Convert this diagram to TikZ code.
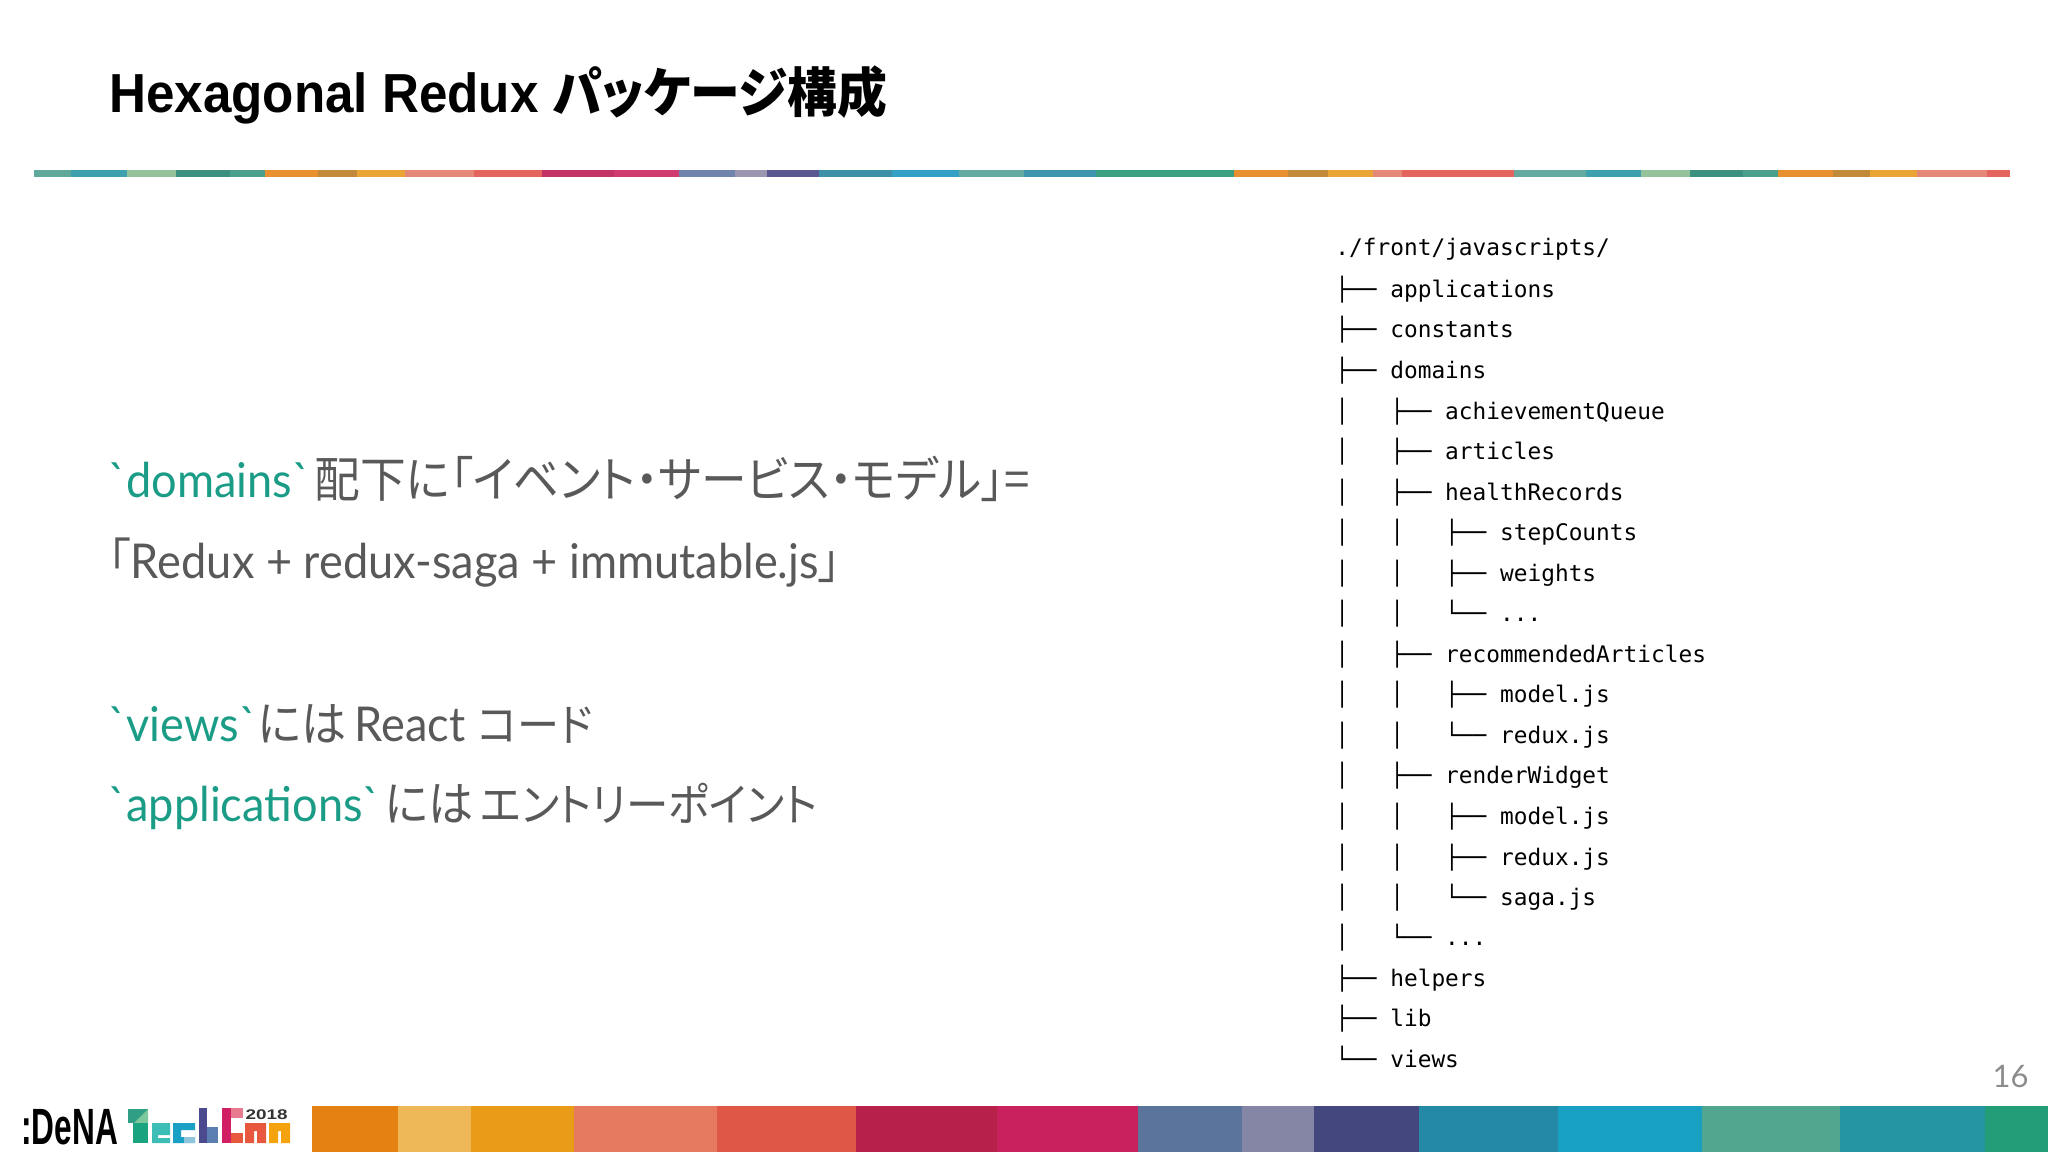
\documentclass[tikz,border=0pt]{standalone}
\usepackage{fontspec}
\usetikzlibrary{positioning}
\newfontfamily\titlefont{Liberation Sans}
\newfontfamily\bodyfont{Lato}
\newfontfamily\jpfont[RawFeature=+palt]{Noto Sans CJK JP}
\newfontfamily\treefont{DejaVu Sans Mono}
\definecolor{bodygray}{HTML}{595959}
\definecolor{codeteal}{HTML}{1A9C86}
\definecolor{pagegray}{HTML}{8C8C8C}
\definecolor{logoteal}{HTML}{2F9E85}
\definecolor{logomint}{HTML}{7CC79C}
\definecolor{logogreen}{HTML}{1AA37F}
\definecolor{logoaqua}{HTML}{3CBDB6}
\definecolor{logoblue}{HTML}{1AA0C4}
\definecolor{logosky}{HTML}{8FC5DB}
\definecolor{logopurple}{HTML}{4B4A8E}
\definecolor{logosteel}{HTML}{5A7FB0}
\definecolor{logopink}{HTML}{D01F63}
\definecolor{logorose}{HTML}{E87A90}
\definecolor{logored}{HTML}{E8583F}
\definecolor{logoamber}{HTML}{F5A20F}
\newcommand{\code}[1]{\textcolor{codeteal}{#1}}
\newcommand{\jp}[2][24pt]{{\jpfont\fontsize{#1}{30pt}\selectfont #2}}
\newcommand{\gap}{\hspace{0.1em}}
\tikzset{
  slidetitle/.style={anchor=base west,inner sep=0pt,xscale=0.93,transform shape,font=\titlefont\fontsize{27.5pt}{30pt}\selectfont\bfseries,text=black},
  bodyline/.style={anchor=base west,inner sep=0pt,xscale=0.94,transform shape,font=\bodyfont\fontsize{24pt}{30pt}\selectfont,text=bodygray},
  treeline/.style={anchor=base west,inner sep=0pt,font=\treefont\fontsize{11.4pt}{14pt}\selectfont,text=black},
}
\begin{document}
\begin{tikzpicture}[x=0.5pt,y=-0.5pt]
  \useasboundingbox (0,0) rectangle (2048,1152);
  % title rule
  \foreach \xa/\xb/\barcol in {34/71/5FA89A,71/127/3E9FAF,127/176/93C29B,176/230/3C9080,230/265/4AA08C,265/318/E89030,318/357/C08A3A,357/405/EAA635,405/474/E58878,474/542/E4655E,542/614/C23465,614/679/D03C70,679/735/7085AE,735/767/9D96B0,767/819/5A5690,819/892/3D90A8,892/959/35A0C5,959/1024/65AAA0,1024/1096/4095AE,1096/1234/3BA080,1234/1288/E89030,1288/1328/C08A3A,1328/1373/EAA635,1373/1402/E58878,1402/1514/E4655E,1514/1586/65AAA0,1586/1641/3E9FAF,1641/1690/93C29B,1690/1743/3C9080,1743/1778/4AA08C,1778/1833/E89030,1833/1870/C08A3A,1870/1917/EAA635,1917/1987/E58878,1987/2010/E4655E}{
    \definecolor{barcolor}{HTML}{\barcol}
    \fill[barcolor] (\xa,170) rectangle (\xb,177);
  }
  % footer bar
  \foreach \xa/\xb/\barcol in {312/398/E58012,398/471/EEB859,471/574/E99C17,574/717/E57A60,717/856/DF5745,856/997/B62049,997/1138/C8215D,1138/1242/5B749C,1242/1314/8585A5,1314/1419/43477D,1419/1558/2389A5,1558/1702/17A0C2,1702/1840/52A68F,1840/1985/2695A3,1985/2048/219D78}{
    \definecolor{barcolor}{HTML}{\barcol}
    \fill[barcolor] (\xa,1106) rectangle (\xb,1152);
  }
  \node[slidetitle] (title) at (109,112) {Hexagonal Redux {\jpfont\fontsize{26.8pt}{30pt}\selectfont パッケージ構成}};
  \node[bodyline] (domainsline) at (108,497) {\code{`domains`}\gap\jp[24.3pt]{配下に「イベント・サービス・モデル」=}};
  \node[bodyline] (reduxline) at (108,578) {\jp{「}Redux + redux-saga + immutable.js\jp{」}};
  \node[bodyline] (viewsline) at (108,741) {\code{`views`}\hspace{0.02em}\jp{には}\hspace{0.18em}React\hspace{0.28em}\jp[22.4pt]{コード}};
  \node[bodyline] (applicationsline) at (108,821) {\code{`applications`}\gap\jp{には}\hspace{0.15em}\jp[22.6pt]{エントリーポイント}};
  \path[every node/.style={treeline}]
    (1335,255) node (root){./front/javascripts/}
    (1335,297) node (applications){├──~applications}
    (1335,337) node (constants){├──~constants}
    (1335,378) node (domains){├──~domains}
    (1335,419) node (achievementQueue){│~~~├──~achievementQueue}
    (1335,459) node (articles){│~~~├──~articles}
    (1335,500) node (healthRecords){│~~~├──~healthRecords}
    (1335,540) node (stepCounts){│~~~│~~~├──~stepCounts}
    (1335,581) node (weights){│~~~│~~~├──~weights}
    (1335,621) node (healthDots){│~~~│~~~└──~...}
    (1335,662) node (recommendedArticles){│~~~├──~recommendedArticles}
    (1335,702) node (recModel){│~~~│~~~├──~model.js}
    (1335,743) node (recRedux){│~~~│~~~└──~redux.js}
    (1335,783) node (renderWidget){│~~~├──~renderWidget}
    (1335,824) node (widgetModel){│~~~│~~~├──~model.js}
    (1335,865) node (widgetRedux){│~~~│~~~├──~redux.js}
    (1335,905) node (widgetSaga){│~~~│~~~└──~saga.js}
    (1335,945) node (domainDots){│~~~└──~...}
    (1335,986) node (helpers){├──~helpers}
    (1335,1026) node (lib){├──~lib}
    (1335,1067) node (views){└──~views};
  \node[anchor=base east,inner sep=0pt,text=pagegray,font=\bodyfont\fontsize{15.5pt}{18pt}\selectfont] (pagenum) at (2029,1087) {16};
  % logo
  \node[anchor=base west,inner sep=0pt,xscale=0.62,transform shape,font=\titlefont\fontsize{25.5pt}{30pt}\selectfont\bfseries] (dena) at (21,1144) {:DeNA};
  \fill[logoteal] (128,1109) rectangle (148,1123);
  \fill[logomint] (148,1109) -- (148,1123) -- (134,1123) -- cycle;
  \fill[logogreen] (133,1123) rectangle (148,1143);
  \fill[logoaqua,even odd rule] (152,1123) rectangle (170,1143) (158,1135) rectangle (170,1138);
  \fill[logoblue,even odd rule] (173,1123) rectangle (195,1143) (181,1130) rectangle (195,1137);
  \fill[logosky] (184,1137) rectangle (195,1143);
  \fill[logopurple] (199,1108) rectangle (207,1143);
  \fill[logosteel] (207,1127) rectangle (218,1143);
  \fill[logopink] (222,1108) rectangle (231,1143);
  \fill[logorose] (231,1108) rectangle (243,1118);
  \fill[logored] (231,1133) rectangle (243,1143);
  \fill[logored,even odd rule] (245,1123) rectangle (266,1143) (254,1131) rectangle (257,1143);
  \fill[logoamber,even odd rule] (269,1123) rectangle (290,1143) (278,1131) rectangle (281,1143);
  \node[anchor=base west,inner sep=0pt,xscale=1.35,transform shape,text=black!80,font=\titlefont\fontsize{7pt}{8pt}\selectfont\bfseries] (year) at (245,1119) {2018};
\end{tikzpicture}
\end{document}
